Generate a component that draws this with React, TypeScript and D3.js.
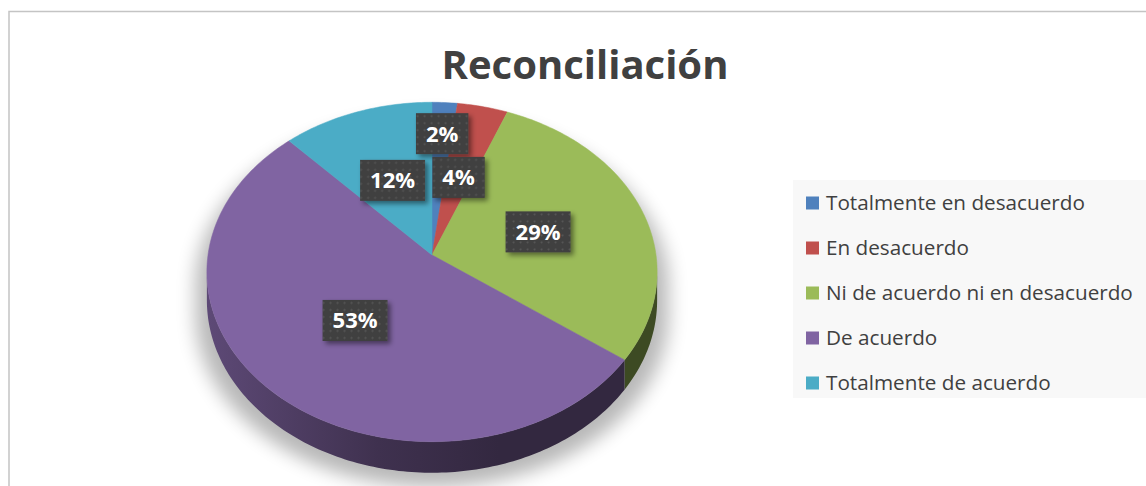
import React, { useEffect, useRef } from 'react';
import * as d3 from 'd3';

const categories = [
  'Totalmente en desacuerdo',
  'En desacuerdo',
  'Ni de acuerdo ni en desacuerdo',
  'De acuerdo',
  'Totalmente de acuerdo',
];
const values = [2, 4, 29, 53, 12];
const colors = ['#4f81bd', '#c0504d', '#9bbb59', '#8064a2', '#4bacc6'];
const title = 'Reconciliación';

const W = 1146;
const H = 486;

const App: React.FC = () => {
  const svgRef = useRef<SVGSVGElement>(null);

  useEffect(() => {
    if (!svgRef.current) return;
    const svg = d3.select(svgRef.current);
    svg.selectAll('*').remove();

    const font = "'Open Sans', 'Noto Sans', sans-serif";

    // pie geometry (perspective-tilted disc)
    const cx = 432;
    const cy = 255;
    const sx = 224; // horizontal radius
    const sy = 168; // vertical scale
    const k = 0.1; // perspective
    const depth = 28;

    const proj = (theta: number, r: number, h = 0): [number, number] => {
      const x = r * Math.sin(theta);
      const z = r * Math.cos(theta);
      const d = 1 + k * z;
      return [cx + (sx * x) / d, cy - (sy * z) / d + h / d];
    };

    const arcPts = (a0: number, a1: number, h = 0) => {
      const n = Math.max(2, Math.ceil(Math.abs(a1 - a0) / (Math.PI / 180)));
      return d3.range(n + 1).map(i => proj(a0 + ((a1 - a0) * i) / n, 1, h));
    };
    const line = d3.line();

    const defs = svg.append('defs');

    // chart frame
    svg.append('rect')
      .attr('x', 9).attr('y', 11.5)
      .attr('width', W + 20).attr('height', H + 20)
      .attr('fill', '#fff')
      .attr('stroke', '#c4c4c4')
      .attr('stroke-width', 1.5);

    // title
    svg.append('text')
      .attr('x', 585).attr('y', 79)
      .attr('text-anchor', 'middle')
      .attr('font-family', font)
      .attr('font-weight', 'bold')
      .attr('font-size', 40)
      .attr('fill', '#404040')
      .text(title);

    const pie = d3.pie<number>().sort(null).startAngle(0).endAngle(2 * Math.PI);
    const arcs = pie(values);

    // silhouette edges
    const sideA = Math.acos(-k);
    const sideB = 2 * Math.PI - sideA;

    // soft shadow behind the pie
    const blur = defs.append('filter').attr('id', 'pieShadow')
      .attr('x', '-20%').attr('y', '-20%').attr('width', '140%').attr('height', '140%');
    blur.append('feGaussianBlur').attr('stdDeviation', 9);

    const sil = [
      ...arcPts(sideB, 2 * Math.PI + sideA, 0),
      ...arcPts(sideA, sideB, depth),
    ];
    svg.append('path')
      .attr('d', line(sil) + 'Z')
      .attr('fill', '#000')
      .attr('opacity', 0.28)
      .attr('filter', 'url(#pieShadow)')
      .attr('transform', `translate(${cx},${cy + 14}) scale(1.05,1) translate(${-cx},${-cy})`);

    // side faces
    arcs.forEach((a, i) => {
      const b0 = Math.max(a.startAngle, sideA);
      const b1 = Math.min(a.endAngle, sideB);
      if (b1 <= b0) return;
      const c = d3.color(colors[i])!;
      const gid = `side${i}`;
      const g = defs.append('linearGradient').attr('id', gid)
        .attr('gradientUnits', 'userSpaceOnUse')
        .attr('x1', cx - sx).attr('x2', cx + sx).attr('y1', 0).attr('y2', 0);
      g.append('stop').attr('offset', 0).attr('stop-color', c.darker(0.9).toString());
      g.append('stop').attr('offset', 0.38).attr('stop-color', c.darker(2).toString());
      g.append('stop').attr('offset', 0.65).attr('stop-color', c.darker(2.6).toString());
      g.append('stop').attr('offset', 1).attr('stop-color', c.darker(2.6).toString());
      const pts = [...arcPts(b0, b1, 0), ...arcPts(b1, b0, depth)];
      svg.append('path')
        .attr('d', line(pts) + 'Z')
        .attr('fill', `url(#${gid})`);
    });

    // top faces
    arcs.forEach((a, i) => {
      const pts = [proj(0, 0), ...arcPts(a.startAngle, a.endAngle, 0)];
      svg.append('path')
        .attr('d', line(pts) + 'Z')
        .attr('fill', colors[i])
        .attr('stroke', colors[i])
        .attr('stroke-width', 0.5);
    });

    // label styling
    const pat = defs.append('pattern').attr('id', 'dots')
      .attr('patternUnits', 'userSpaceOnUse')
      .attr('width', 7).attr('height', 7);
    pat.append('rect').attr('width', 7).attr('height', 7).attr('fill', '#3f3f3f');
    pat.append('circle').attr('cx', 3.5).attr('cy', 3.5).attr('r', 1.1).attr('fill', '#575757');

    const ds = defs.append('filter').attr('id', 'lblShadow')
      .attr('x', '-30%').attr('y', '-30%').attr('width', '170%').attr('height', '170%');
    ds.append('feDropShadow')
      .attr('dx', 3).attr('dy', 3).attr('stdDeviation', 2.5)
      .attr('flood-color', '#000').attr('flood-opacity', 0.45);

    const total = d3.sum(values);
    const fmt = (v: number) => `${Math.round((v / total) * 100)}%`;

    // measure label texts
    const lblFont = 22;
    const labels = arcs.map((a, i) => {
      const t = svg.append('text')
        .attr('font-family', font).attr('font-weight', 'bold')
        .attr('font-size', lblFont).text(fmt(values[i]));
      const w = (t.node() as SVGTextElement).getComputedTextLength();
      t.remove();
      return { i, a, text: fmt(values[i]), w: w + 20, h: 41, r: 0.5, x: 0, y: 0 };
    });

    // place big slices first, push smaller ones out when they overlap
    const placed: typeof labels = [];
    const overlaps = (p: typeof labels[0]) => placed.some(q =>
      Math.abs(p.x - q.x) < (p.w + q.w) / 2 + 2 && Math.abs(p.y - q.y) < (p.h + q.h) / 2 + 2);
    [...labels].sort((p, q) => values[q.i] - values[p.i]).forEach(p => {
      const mid = (p.a.startAngle + p.a.endAngle) / 2;
      do {
        [p.x, p.y] = proj(mid, p.r);
        if (!overlaps(p)) break;
        p.r += 0.02;
      } while (p.r < 1.1);
      placed.push(p);
    });

    const lg = svg.append('g');
    labels.forEach(p => {
      const g = lg.append('g').attr('transform', `translate(${p.x},${p.y})`);
      g.append('rect')
        .attr('x', -p.w / 2).attr('y', -p.h / 2)
        .attr('width', p.w).attr('height', p.h)
        .attr('fill', 'url(#dots)')
        .attr('filter', 'url(#lblShadow)');
      g.append('text')
        .attr('text-anchor', 'middle')
        .attr('dy', '0.36em')
        .attr('font-family', font).attr('font-weight', 'bold')
        .attr('font-size', lblFont)
        .attr('fill', '#fff')
        .text(p.text);
    });

    // legend
    const legX = 793;
    const legY = 180;
    svg.append('rect')
      .attr('x', legX).attr('y', legY)
      .attr('width', W - legX + 10).attr('height', 218)
      .attr('fill', '#f8f8f8');
    const item = svg.append('g').selectAll('g')
      .data(categories)
      .join('g')
      .attr('transform', (_, i) => `translate(${legX + 13},${legY + 23 + i * 45})`);
    item.append('rect')
      .attr('x', 0).attr('y', -6.5)
      .attr('width', 13).attr('height', 13)
      .attr('fill', (_, i) => colors[i]);
    item.append('text')
      .attr('x', 20)
      .attr('dy', '0.35em')
      .attr('font-family', font)
      .attr('font-size', 20.7)
      .attr('fill', '#404040')
      .text(d => d);
  }, []);

  return (
    <svg
      ref={svgRef}
      width={W}
      height={H}
      style={{ position: 'absolute', left: 0, top: 0, background: '#fff' }}
    />
  );
};

export default App;
